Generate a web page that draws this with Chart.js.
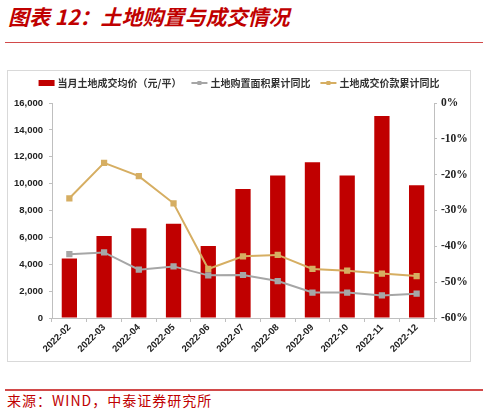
<!DOCTYPE html>
<html>
<head>
<meta charset="utf-8">
<script src="https://cdn.jsdelivr.net/npm/chart.js@4"></script>
<style>
  body { margin: 0; width: 488px; height: 413px; background: #fff; position: relative; overflow: hidden; }
  .title { position: absolute; left: 8px; top: 4px; line-height: 24px; font-size: 21px; font-weight: bold; font-style: italic;
           color: #C00000; font-family: "Noto Sans CJK SC", sans-serif; white-space: nowrap; }
  .rule { position: absolute; left: 5px; width: 478px; background: #D24A4A; }
  .box { position: absolute; left: 7px; top: 70px; width: 462px; height: 290px; border: 1px solid #d9d9d9; }
  .source { position: absolute; left: 7px; top: 391px; line-height: 18px; font-size: 14px; letter-spacing: 1px; color: #C00000;
            font-family: "Noto Sans CJK SC", sans-serif; white-space: nowrap; }
</style>
</head>
<body>
<div class="title">图表 12：土地购置与成交情况</div>
<div class="rule" style="top:42px;height:1px"></div>
<div class="box"><canvas id="myChart" width="462" height="290"></canvas></div>
<div class="rule" style="top:389px;height:1.5px"></div>
<div class="source">来源：WIND，中泰证券研究所</div>
<script>
const months = ["2022-02", "2022-03", "2022-04", "2022-05", "2022-06", "2022-07",
                "2022-08", "2022-09", "2022-10", "2022-11", "2022-12"];
// 当月土地成交均价（元/平）
const avgPrice = [4430, 6100, 6670, 7020, 5350, 9600, 10600, 11600, 10600, 15030, 9880];
// 土地购置面积累计同比（%）
const areaYoy = [-42.2, -41.7, -46.5, -45.6, -48.1, -48.0, -49.7, -52.9, -52.9, -53.7, -53.2];
// 土地成交价款累计同比（%）
const amountYoy = [-26.6, -16.7, -20.4, -28.0, -46.3, -42.8, -42.4, -46.3, -46.8, -47.6, -48.3];

const axisColor = "#bfbfbf";

// 图例自己画：红色方块 + 带方点的折线
const legendPlugin = {
    id: "customLegend",
    afterDraw(chart) {
        const ctx = chart.ctx;
        const items = chart.data.datasets.map(ds => ({
            label: ds.label,
            color: ds.type === "line" ? ds.borderColor : ds.backgroundColor,
            isLine: ds.type === "line",
        }));
        ctx.save();
        ctx.font = "bold 10px 'Noto Sans CJK SC'";
        const markW = 16, markGap = 3, itemGap = 10;
        const widths = items.map(it => markW + markGap + ctx.measureText(it.label).width);
        const total = widths.reduce((a, b) => a + b, 0) + itemGap * (items.length - 1);
        let x = (chart.width - total) / 2;
        const y = 12;
        items.forEach((it, i) => {
            if (it.isLine) {
                ctx.strokeStyle = it.color;
                ctx.lineWidth = 2;
                ctx.beginPath();
                ctx.moveTo(x, y);
                ctx.lineTo(x + markW, y);
                ctx.stroke();
                ctx.fillStyle = it.color;
                ctx.fillRect(x + markW / 2 - 2, y - 2, 4, 4);
            } else {
                ctx.fillStyle = it.color;
                ctx.fillRect(x, y - 3, markW, 6);
            }
            ctx.fillStyle = "#333";
            ctx.textBaseline = "middle";
            ctx.textAlign = "left";
            ctx.fillText(it.label, x + markW + markGap, y + 0.5);
            x += widths[i] + itemGap;
        });
        ctx.restore();
    }
};

const ctx = document.getElementById("myChart").getContext("2d");
new Chart(ctx, {
    data: {
        labels: months,
        datasets: [
            {
                type: "bar",
                label: "当月土地成交均价（元/平）",
                data: avgPrice,
                backgroundColor: "#C00000",
                yAxisID: "y",
                barPercentage: 0.44,
                categoryPercentage: 1,
                order: 3,
            },
            {
                type: "line",
                label: "土地购置面积累计同比",
                data: areaYoy,
                borderColor: "#A6A6A6",
                backgroundColor: "#A6A6A6",
                borderWidth: 2,
                pointStyle: "rect",
                pointRadius: 3,
                yAxisID: "y1",
                order: 2,
            },
            {
                type: "line",
                label: "土地成交价款累计同比",
                data: amountYoy,
                borderColor: "#D6AE62",
                backgroundColor: "#D6AE62",
                borderWidth: 2,
                pointStyle: "rect",
                pointRadius: 3,
                yAxisID: "y1",
                order: 1,
            },
        ],
    },
    options: {
        responsive: false,
        animation: false,
        layout: { padding: { top: 32, left: 0, right: 0, bottom: 0 } },
        plugins: {
            legend: { display: false },
            tooltip: { enabled: false },
        },
        scales: {
            x: {
                grid: { drawOnChartArea: false, tickLength: 4, color: axisColor },
                border: { color: axisColor },
                ticks: {
                    minRotation: 45, maxRotation: 45, padding: 0,
                    color: "#222",
                    font: { family: "'Liberation Sans'", size: 9.5, weight: "bold" },
                },
                afterFit(scale) { scale.height = 43; },
            },
            y: {
                position: "left",
                min: 0, max: 16000,
                ticks: {
                    stepSize: 2000, padding: 6,
                    color: "#222",
                    font: { family: "'Liberation Sans'", size: 9.5, weight: "bold" },
                    callback: v => v.toLocaleString("en-US"),
                },
                grid: { drawOnChartArea: false, tickLength: 3, color: axisColor },
                border: { color: axisColor },
                afterFit(scale) { scale.width = 44; },
            },
            y1: {
                position: "right",
                min: -60, max: 0,
                ticks: {
                    stepSize: 10, padding: 4,
                    color: "#222",
                    font: { family: "'Liberation Serif'", size: 11.5, weight: "bold" },
                    callback: v => v + "%",
                },
                grid: { drawOnChartArea: false, tickLength: 3, color: axisColor },
                border: { color: axisColor },
                afterFit(scale) { scale.width = 36; },
            },
        },
    },
    plugins: [legendPlugin],
});
</script>
</body>
</html>
